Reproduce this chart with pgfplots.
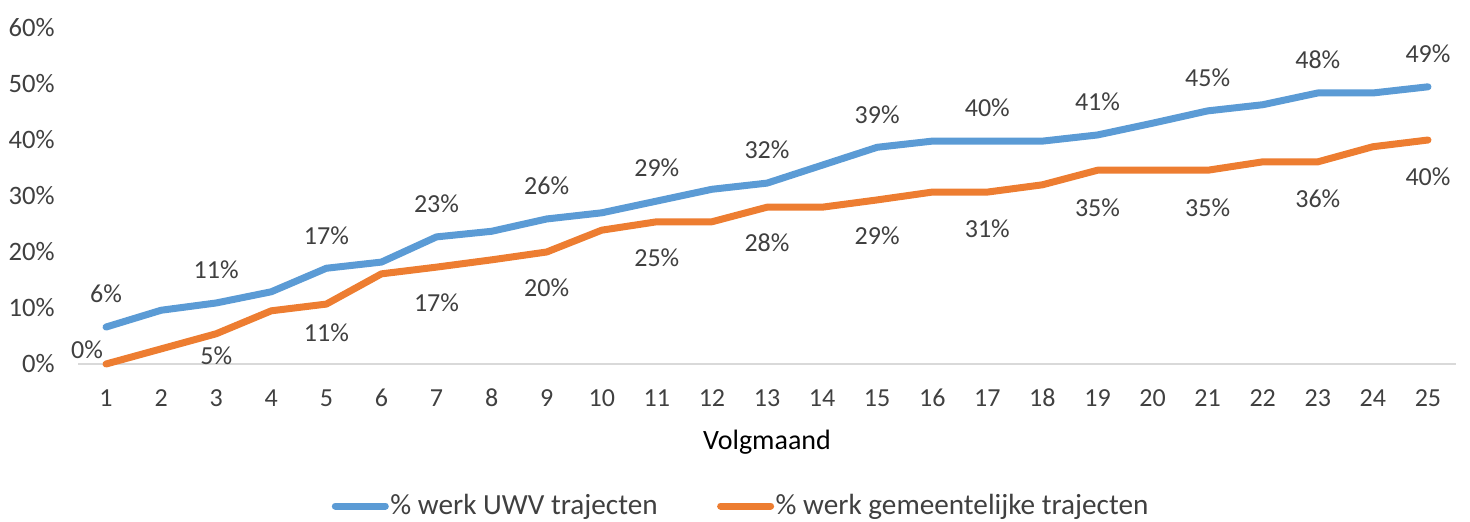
\documentclass[border=0pt]{standalone}
\usepackage{pgfplots}
\pgfplotsset{compat=1.18}
\usepackage{pgfplotstable}
\usepackage{fontspec}
\setmainfont{Carlito}
\definecolor{uwv}{HTML}{5B9BD5}
\definecolor{gem}{HTML}{ED7D31}
\definecolor{txt}{HTML}{404040}
\definecolor{axl}{HTML}{D9D9D9}

\pgfplotstableread{
x y lbl dx dy
1 6.6 6 0 16.5
2 9.6 - 0 0
3 10.9 11 0 16.5
4 12.9 - 0 0
5 17.1 17 0 16.5
6 18.2 - 0 0
7 22.7 23 0 16.5
8 23.7 - 0 0
9 25.9 26 0 16.5
10 27.0 - 0 0
11 29.1 29 0 16.5
12 31.2 - 0 0
13 32.3 32 0 16.5
14 35.5 - 0 0
15 38.7 39 0 16.5
16 39.8 - 0 0
17 39.8 40 0 16.5
18 39.8 - 0 0
19 40.9 41 0 16.5
20 43.0 - 0 0
21 45.2 45 0 16.5
22 46.3 - 0 0
23 48.4 48 0 16.5
24 48.4 - 0 0
25 49.5 49 0 16.5
}\uwvdata

\pgfplotstableread{
x y lbl dx dy
1 0.0 0 -9.5 7.25
2 2.7 - 0 0
3 5.4 5 0 -11
4 9.5 - 0 0
5 10.7 11 0 -14.5
6 16.1 - 0 0
7 17.3 17 0 -18
8 18.6 - 0 0
9 20.0 20 0 -18
10 23.9 - 0 0
11 25.4 25 0 -18
12 25.4 - 0 0
13 28.0 28 0 -18
14 28.0 - 0 0
15 29.3 29 0 -18
16 30.7 - 0 0
17 30.7 31 0 -18.5
18 32.0 - 0 0
19 34.6 35 0 -18.5
20 34.6 - 0 0
21 34.6 35 0 -18.5
22 36.1 - 0 0
23 36.1 36 0 -18.5
24 38.8 - 0 0
25 40.0 40 0 -18.5
}\gemdata

\begin{document}
\begin{tikzpicture}
\begin{axis}[
  at={(0,0)}, anchor=south west,
  scale only axis, width=688.5pt, height=168pt,
  xmin=0.5, xmax=25.5, ymin=0, ymax=60,
  clip=false,
  axis x line=bottom, axis y line=left,
  y axis line style={draw=none},
  x axis line style={draw=axl, line width=0.9pt, -},
  major tick length=0pt,
  xtick={1,...,25}, ytick={0,10,...,60},
  /pgf/number format/assume math mode=true,
  yticklabel={\pgfmathprintnumber{\tick}\%},
  xticklabel style={anchor=base, yshift=-21pt, inner sep=0pt, font=\fontsize{13}{15}\selectfont, text=txt},
  yticklabel style={anchor=east, xshift=-11.75pt, inner sep=0pt, font=\fontsize{13.3}{15}\selectfont, text=txt},
  xlabel={Volgmaand},
  xlabel style={at={(axis description cs:0.5,0)}, anchor=base, yshift=-42.5pt, inner sep=0pt, font=\fontsize{14}{16}\selectfont, text=black},
  legend columns=2,
  legend style={at={(0.481,0)}, anchor=center, yshift=-71pt, draw=none, fill=none,
    font=\fontsize{14.6}{16}\selectfont, text=txt,
    nodes={inner xsep=0.8pt},
    /tikz/every even column/.append style={column sep=29pt}},
  legend image code/.code={\draw[#1] (0pt,0pt) -- (25pt,0pt);},
  every axis plot/.append style={line join=round, line cap=round},
]
\addplot[uwv, line width=3.5pt, mark=none] table[x=x, y=y] {\uwvdata};
\addlegendentry{\% werk UWV trajecten}
\addplot[gem, line width=3.5pt, mark=none] table[x=x, y=y] {\gemdata};
\addlegendentry{\% werk gemeentelijke trajecten}

\addplot[forget plot, draw=none, mark=none, each nth point=2, filter discard warning=false,
  point meta=explicit symbolic, nodes near coords={\pgfplotspointmeta\%},
  visualization depends on={\thisrow{dx} \as \dx},
  visualization depends on={\thisrow{dy} \as \dy},
  every node near coord/.append style={anchor=center, xshift=\dx pt, yshift=\dy pt, inner sep=0pt, font=\fontsize{13}{15}\selectfont, text=txt}]
  table[x=x, y=y, meta=lbl] {\uwvdata};
\addplot[forget plot, draw=none, mark=none, each nth point=2, filter discard warning=false,
  point meta=explicit symbolic, nodes near coords={\pgfplotspointmeta\%},
  visualization depends on={\thisrow{dx} \as \dx},
  visualization depends on={\thisrow{dy} \as \dy},
  every node near coord/.append style={anchor=center, xshift=\dx pt, yshift=\dy pt, inner sep=0pt, font=\fontsize{13}{15}\selectfont, text=txt}]
  table[x=x, y=y, meta=lbl] {\gemdata};
\end{axis}
\pgfresetboundingbox
\path[use as bounding box] (-39.25pt,-78.5pt) rectangle (695.75pt,182pt);
\end{tikzpicture}
\end{document}
